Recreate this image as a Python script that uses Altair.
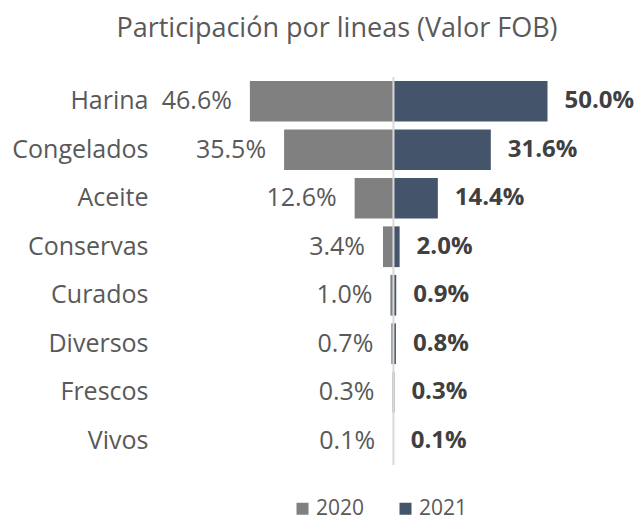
import altair as alt
import pandas as pd

categories = ["Harina", "Congelados", "Aceite", "Conservas", "Curados", "Diversos", "Frescos", "Vivos"]
v2020 = [46.6, 35.5, 12.6, 3.4, 1.0, 0.7, 0.3, 0.1]
v2021 = [50.0, 31.6, 14.4, 2.0, 0.9, 0.8, 0.3, 0.1]
years = ["2020", "2021"]
colors = ["#808080", "#44546A"]

df20 = pd.DataFrame({
    "cat": categories, "year": years[0],
    "signed": [-v for v in v2020], "lbl": [f"{v:.1f}%" for v in v2020],
})
df21 = pd.DataFrame({
    "cat": categories, "year": years[1],
    "signed": list(v2021), "lbl": [f"{v:.1f}%" for v in v2021],
})
df = pd.concat([df20, df21], ignore_index=True)
center = pd.DataFrame({"signed": [0]})

FONT = "Open Sans"

y = alt.Y(
    "cat:N", title=None,
    scale=alt.Scale(domain=categories, paddingInner=0.16, paddingOuter=0.08),
    axis=alt.Axis(domain=False, ticks=False, grid=False, labelPadding=7,
                  labelFontSize=25, labelColor="#595959", labelFont=FONT),
)
x = alt.X("signed:Q", scale=alt.Scale(domain=[-77.4, 78.4], nice=False), axis=None)

bars = alt.Chart(df).mark_bar().encode(
    x=x, y=y,
    color=alt.Color(
        "year:N",
        scale=alt.Scale(domain=years, range=colors),
        legend=alt.Legend(
            orient="bottom", direction="horizontal", offset=33,
            title=" ", titleOrient="left", titleFontSize=1, titlePadding=137,
            symbolType="square", symbolSize=144, symbolStrokeWidth=0,
            labelFontSize=21, labelFont=FONT, labelColor="#595959",
            columnPadding=30, padding=0, labelOffset=3,
        ),
    ),
)

rule = alt.Chart(center).mark_rule(color="#d9d9d9", strokeWidth=2).encode(x=x)

t2020 = alt.Chart(df20).mark_text(
    align="right", baseline="middle", dx=-18, fontSize=25, font=FONT, color="#595959"
).encode(x=x, y=y, text="lbl:N")

t2021 = alt.Chart(df21).mark_text(
    align="left", baseline="middle", dx=17, fontSize=24, font=FONT, fontWeight="bold", color="#404040"
).encode(x=x, y=y, text="lbl:N")

chart = alt.layer(bars, rule, t2020, t2021).properties(
    width=480, height=388,
    title=alt.TitleParams(
        "Participación por lineas (Valor FOB)", fontSize=27, font=FONT, color="#595959",
        fontWeight="normal", anchor="middle", offset=33, dx=-58,
    ),
    autosize=alt.AutoSizeParams(type="none"),
    padding={"left": 155, "top": 77, "right": 4, "bottom": 55},
).configure_view(stroke=None)

chart.save("out.html", embed_options={"renderer": "svg", "actions": False})
